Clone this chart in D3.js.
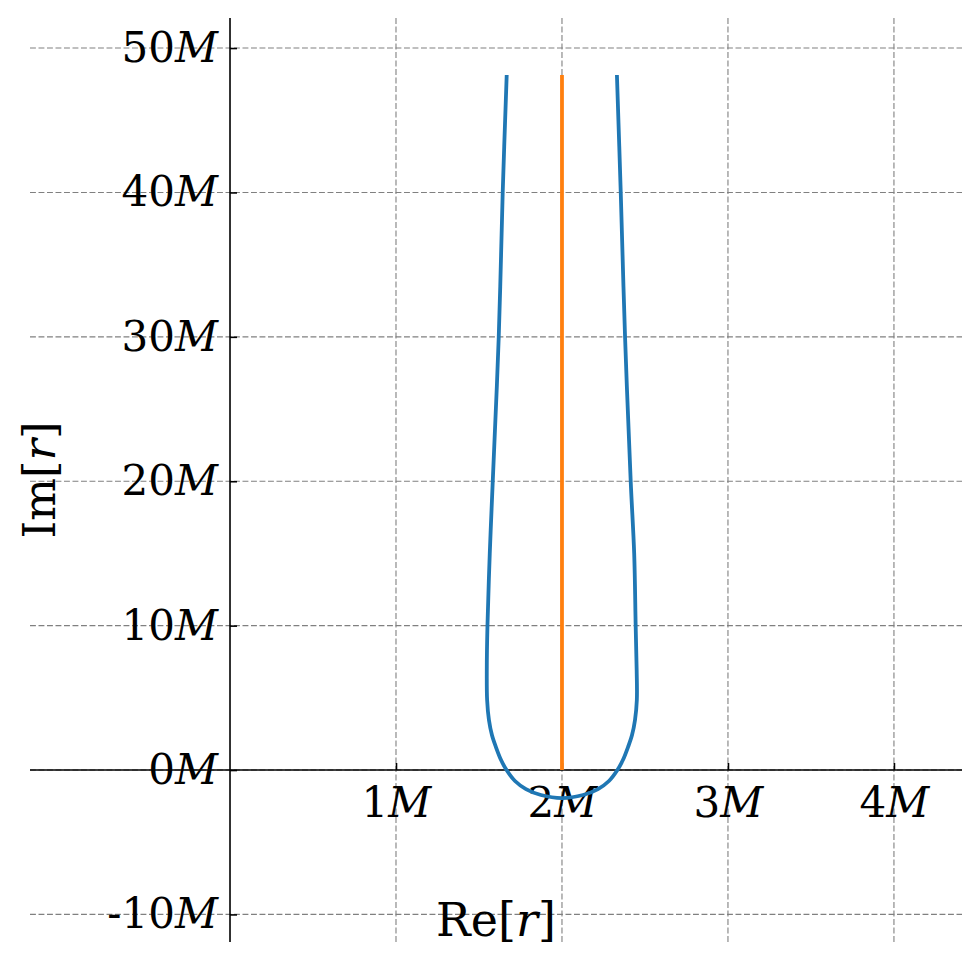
<!DOCTYPE html>
<html>
<head>
<meta charset="utf-8">
<script src="https://cdn.jsdelivr.net/npm/d3@7"></script>
<style>
  body { margin: 0; background: #fff; }
  text { font-family: "DejaVu Serif", serif; }
</style>
</head>
<body>
<div id="chart"></div>
<script>
// tick values (in units of M)
var X_TICKS = [1, 2, 3, 4]
var Y_TICKS = [-10, 0, 10, 20, 30, 40, 50]

// blue curve: Re[r], Im[r]
var loopRe = [1.667, 1.643, 1.619, 1.583, 1.565, 1.551, 1.547, 1.549, 1.560, 1.578, 1.602, 1.633, 1.666, 1.717, 1.783, 1.873, 2.0,
              2.127, 2.217, 2.283, 2.334, 2.367, 2.398, 2.422, 2.440, 2.451, 2.450, 2.444, 2.435, 2.414, 2.380, 2.354, 2.331]
var loopIm = [48.13, 40.03, 29.99, 20.01, 15.0, 9.97, 6.93, 4.85, 3.46, 2.42, 1.59, 0.69, 0, -0.76, -1.32, -1.73, -1.94,
              -1.73, -1.32, -0.76, 0, 0.69, 1.59, 2.42, 3.46, 4.85, 6.93, 9.97, 15.0, 20.01, 29.99, 40.03, 48.13]

// orange line
var lineRe = [2, 2]
var lineIm = [0, 48.13]

var W = 980, H = 969
var box = {left: 30, right: 962, top: 18, bottom: 942}

var svg = d3.select("#chart")
  .append("svg")
    .attr("width", W)
    .attr("height", H)

var x = d3.scaleLinear()
  .domain([-1.205, 4.41])
  .range([box.left, box.right])

var y = d3.scaleLinear()
  .domain([-11.91, 52.08])
  .range([box.bottom, box.top])

// grid
var grid = svg.append("g")
  .attr("stroke", "#808080")
  .attr("stroke-width", 1.1)
  .attr("stroke-dasharray", "5.9,2.6")

grid.selectAll(".gx")
  .data(X_TICKS)
  .enter()
  .append("line")
    .attr("x1", d => x(d)).attr("x2", d => x(d))
    .attr("y1", box.top).attr("y2", box.bottom)

grid.selectAll(".gy")
  .data(Y_TICKS)
  .enter()
  .append("line")
    .attr("y1", d => y(d)).attr("y2", d => y(d))
    .attr("x1", box.left).attr("x2", box.right)

// spines through the origin
var tickFmt = function(sel) {
  sel.each(function(d) {
    var t = d3.select(this).text(null)
    t.append("tspan").text(d)
    t.append("tspan").attr("font-style", "italic").text("M")
  })
}

var xAxis = svg.append("g")
  .attr("transform", "translate(0," + y(0) + ")")
  .call(d3.axisBottom(x).tickValues(X_TICKS).tickSizeInner(-7).tickSizeOuter(0).tickPadding(17))
xAxis.select(".domain").attr("d", "M" + box.left + ",0H" + box.right)
xAxis.selectAll("line").attr("stroke-width", 1.6)
xAxis.selectAll("text")
  .attr("font-family", "DejaVu Serif")
  .attr("font-size", 42)
  .attr("dy", "0.71em")
  .call(tickFmt)

var yAxis = svg.append("g")
  .attr("transform", "translate(" + x(0) + ",0)")
  .call(d3.axisLeft(y).tickValues(Y_TICKS).tickSizeInner(-7).tickSizeOuter(0).tickPadding(12))
yAxis.select(".domain").attr("d", "M0," + box.top + "V" + box.bottom)
yAxis.selectAll("line").attr("stroke-width", 1.6)
yAxis.selectAll("text")
  .attr("font-family", "DejaVu Serif")
  .attr("font-size", 42)
  .call(tickFmt)

svg.selectAll(".domain").attr("stroke-width", 1.6)

// data lines
var pts = loopRe.map((r, i) => [r, loopIm[i]])
svg.append("path")
  .datum(pts)
  .attr("fill", "none")
  .attr("stroke", "#1f77b4")
  .attr("stroke-width", 3.8)
  .attr("d", d3.line().x(d => x(d[0])).y(d => y(d[1])).curve(d3.curveCatmullRom.alpha(0.5)))

svg.append("path")
  .datum(lineRe.map((r, i) => [r, lineIm[i]]))
  .attr("fill", "none")
  .attr("stroke", "#ff7f0e")
  .attr("stroke-width", 3.8)
  .attr("d", d3.line().x(d => x(d[0])).y(d => y(d[1])))

// axis labels
var xl = svg.append("text")
  .attr("x", (box.left + box.right) / 2)
  .attr("y", 936)
  .attr("text-anchor", "middle")
  .attr("font-size", 46)
xl.append("tspan").text("Re[")
xl.append("tspan").attr("font-style", "italic").text("r")
xl.append("tspan").text("]")

var yl = svg.append("text")
  .attr("transform", "translate(55," + (box.top + box.bottom) / 2 + ") rotate(-90)")
  .attr("text-anchor", "middle")
  .attr("font-size", 45)
yl.append("tspan").text("Im[")
yl.append("tspan").attr("font-style", "italic").text("r")
yl.append("tspan").text("]")
</script>
</body>
</html>
